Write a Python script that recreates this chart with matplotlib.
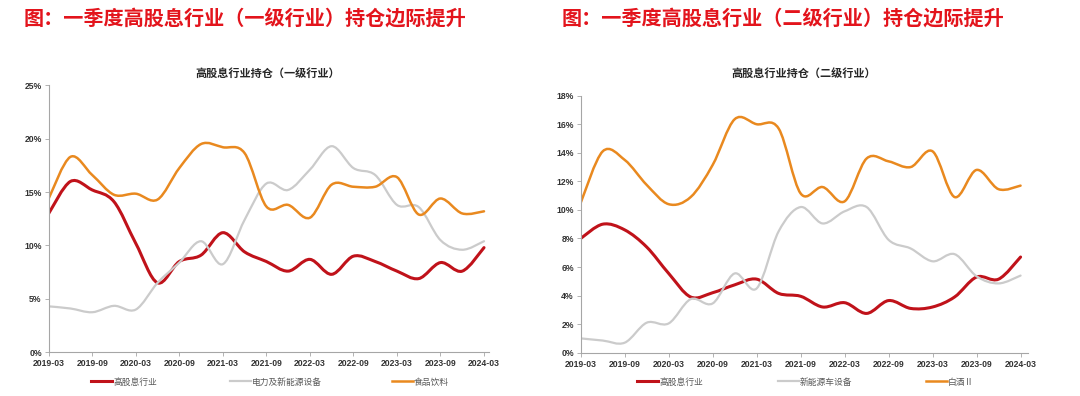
import numpy as np
import matplotlib
matplotlib.use('Agg')
import matplotlib.pyplot as plt
from matplotlib.path import Path
from matplotlib.patches import PathPatch
from matplotlib.lines import Line2D

plt.rcParams['font.family'] = ['Liberation Sans', 'Noto Sans CJK SC', 'DejaVu Sans']

# quarterly dates 2019-03 .. 2024-03
quarters = ['2019-03', '2019-06', '2019-09', '2019-12', '2020-03', '2020-06', '2020-09',
            '2020-12', '2021-03', '2021-06', '2021-09', '2021-12', '2022-03', '2022-06',
            '2022-09', '2022-12', '2023-03', '2023-06', '2023-09', '2023-12', '2024-03']

# 一级行业
l1_high_div = [13.0, 16.0, 15.2, 14.1, 10.2, 6.5, 8.5, 9.1, 11.2, 9.4, 8.5,
               7.6, 8.7, 7.3, 9.0, 8.5, 7.6, 6.9, 8.4, 7.6, 9.8]
l1_power = [4.3, 4.1, 3.75, 4.35, 4.0, 6.5, 8.4, 10.4, 8.25, 12.4, 15.8,
            15.2, 17.1, 19.3, 17.25, 16.6, 13.8, 13.6, 10.5, 9.6, 10.4]
l1_food = [14.4, 18.3, 16.6, 14.75, 14.85, 14.3, 17.25, 19.5, 19.2, 18.65, 13.65,
           13.8, 12.6, 15.7, 15.5, 15.5, 16.4, 12.9, 14.4, 13.0, 13.2]

# 二级行业
l2_high_div = [8.0, 9.0, 8.6, 7.4, 5.55, 3.9, 4.2, 4.75, 5.15, 4.15, 3.95,
               3.2, 3.5, 2.75, 3.65, 3.1, 3.2, 3.9, 5.3, 5.15, 6.7]
l2_nev = [1.0, 0.85, 0.7, 2.1, 2.05, 3.75, 3.45, 5.55, 4.5, 8.5, 10.2,
          9.05, 9.9, 10.2, 7.9, 7.3, 6.4, 6.9, 5.35, 4.85, 5.4]
l2_liquor = [10.5, 14.1, 13.5, 11.75, 10.4, 10.9, 13.15, 16.35, 16.0, 15.7, 11.15,
             11.6, 10.6, 13.6, 13.4, 13.0, 14.1, 10.9, 12.8, 11.45, 11.7]

RED = '#c0121a'
GRAY = '#cbcbcb'
ORANGE = '#e9891f'
TITLE_RED = '#e3141c'
W, H = 1080, 396


def smooth_line(ax, y, color, lw):
    # Excel-style smoothed line: cubic bezier segments through the data points
    pts = np.column_stack([np.arange(len(y)), np.asarray(y, float)])
    ext = np.vstack([pts[0], pts, pts[-1]])
    verts = [pts[0]]
    codes = [Path.MOVETO]
    for i in range(len(pts) - 1):
        p0, p1, p2, p3 = ext[i], ext[i + 1], ext[i + 2], ext[i + 3]
        verts += [p1 + (p2 - p0) / 6, p2 - (p3 - p1) / 6, p2]
        codes += [Path.CURVE4] * 3
    ax.add_patch(PathPatch(Path(verts, codes), fill=False, edgecolor=color,
                           lw=lw, capstyle='round', joinstyle='round'))


def panel(ax, series, names, ymax, ystep, xmax, subtitle, cx, legend_x):
    colors = [RED, GRAY, ORANGE]
    widths = [2.2, 1.6, 1.8]
    for s, c, w in zip(series, colors, widths):
        smooth_line(ax, s, c, w)
    ax.set_xlim(0, xmax)
    ax.set_ylim(0, ymax)
    ax.set_xticks(range(0, len(quarters), 2))
    ax.set_xticklabels(quarters[::2], fontsize=6.2, fontweight='bold', color='#333333')
    yt = np.arange(0, ymax + 0.01, ystep)
    ax.set_yticks(yt)
    ax.set_yticklabels(['%d%%' % v for v in yt], fontsize=6.2, fontweight='bold', color='#333333')
    for sp in ['top', 'right']:
        ax.spines[sp].set_visible(False)
    for sp in ['left', 'bottom']:
        ax.spines[sp].set_color('#a6a6a6')
        ax.spines[sp].set_linewidth(0.8)
    ax.tick_params(length=3, width=0.6, color='#a6a6a6', pad=2)
    fig.text(cx, 1 - 73 / H, subtitle, fontsize=8, fontweight='bold', color='#262626',
             ha='center', va='center')
    # legend drawn by hand so every label sits on the same line
    ly = 1 - 381 / H
    for c, w, name, lx in zip(colors, widths, names, legend_x):
        fig.add_artist(Line2D([lx / W, (lx + 21) / W], [ly, ly], color=c, lw=w,
                              transform=fig.transFigure))
        fig.text((lx + 22) / W, ly, name, fontsize=6.3, color='#595959',
                 family='Noto Sans CJK SC', ha='left', va='center_baseline')


fig = plt.figure(figsize=(10.8, 3.96), dpi=100)

ax1 = fig.add_axes([0.0451, 0.1104, 0.4077, 0.6742])
panel(ax1, [l1_high_div, l1_power, l1_food], ['高股息行业', '电力及新能源设备', '食品饮料'],
      25, 5, 20.23, '高股息行业持仓（一级行业）', 0.248, [91, 230, 392])

ax2 = fig.add_axes([0.5377, 0.1094, 0.4144, 0.649])
panel(ax2, [l2_high_div, l2_nev, l2_liquor], ['高股息行业', '新能源车设备', '白酒Ⅱ'],
      18, 2, 20.35, '高股息行业持仓（二级行业）', 0.7444, [637, 778, 926])

fig.text(0.022, 0.953, '图：一季度高股息行业（一级行业）持仓边际提升', fontsize=14.5,
         fontweight='bold', color=TITLE_RED, va='center', ha='left')
fig.text(0.52, 0.953, '图：一季度高股息行业（二级行业）持仓边际提升', fontsize=14.5,
         fontweight='bold', color=TITLE_RED, va='center', ha='left')

fig.savefig('out.png', dpi=100)
